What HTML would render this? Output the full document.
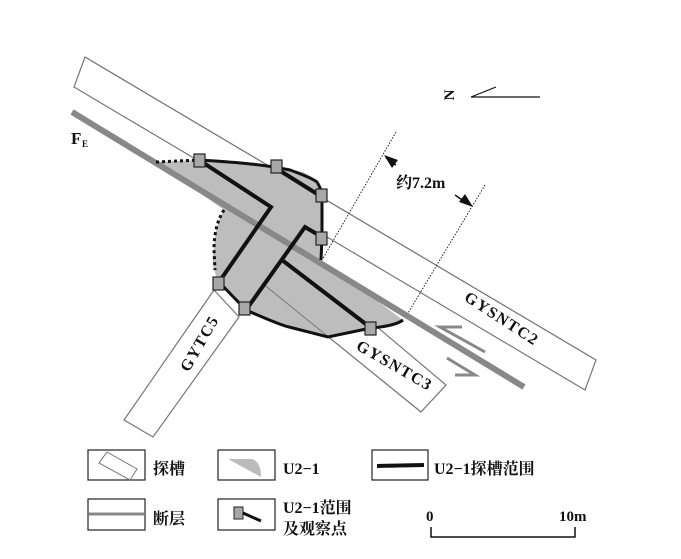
<!DOCTYPE html>
<html><head><meta charset="utf-8"><style>
html,body{margin:0;padding:0;background:#fff;}
svg{display:block;}
text{font-family:"Liberation Serif","Noto Serif CJK SC",serif;font-weight:bold;fill:#111;}
</style></head><body>
<svg width="681" height="559" viewBox="0 0 681 559" xmlns="http://www.w3.org/2000/svg">
<rect width="681" height="559" fill="#fff"/>
<!-- trenches -->
<polygon points="85,57 596,360 585,390 74,87" fill="#fff" stroke="#777" stroke-width="1.2"/>
<polygon points="300,262 446,385 421,412 262,283" fill="#fff" stroke="#777" stroke-width="1.2"/>
<polygon points="214,290 239,317 153,437 124,420" fill="#fff" stroke="#777" stroke-width="1.2"/>
<!-- shaded U2-1 -->
<path d="M156,162 L199,160 Q250,163 274,167 L303,172 Q315,178 317,182 L322,197 L322,237 L321,260 L403,320 Q395,326 371,328 L328,337 Q305,333 289,327 L246,310 L219,282 Q210,265 214,250 Q215,225 224,210 Z" fill="#bdbdbd"/>
<!-- trench lines over shading -->
<line x1="262" y1="283" x2="421" y2="412" stroke="#777" stroke-width="1"/>
<line x1="85" y1="57" x2="596" y2="360" stroke="#777" stroke-width="1"/>
<!-- fault -->
<line x1="72" y1="112" x2="524" y2="387" stroke="#888" stroke-width="6"/>
<!-- boundary -->
<path d="M199,160 Q250,163 274,167 L290,170 Q312,178 317,182 Q322,190 322,197 L322,237 L321,260" fill="none" stroke="#111" stroke-width="3"/>
<path d="M219,282 L246,310 Q280,325 289,327 L328,337 L371,328 Q395,326 403,320" fill="none" stroke="#111" stroke-width="3"/>
<path d="M156,162 L199,160" stroke="#111" stroke-width="3" stroke-dasharray="3,3"/>
<path d="M224,210 Q214,225 214,250 L215,270" fill="none" stroke="#111" stroke-width="3" stroke-dasharray="3,3"/>
<!-- trench range lines -->
<polyline points="199,160 271,207 219,282" fill="none" stroke="#111" stroke-width="4"/>
<polyline points="274,167 322,197" fill="none" stroke="#111" stroke-width="4"/>
<polyline points="246,310 305,227 322,237" fill="none" stroke="#111" stroke-width="4"/>
<polyline points="282,260 371,328" fill="none" stroke="#111" stroke-width="4"/>
<!-- squares -->
<g fill="#a8a8a8" stroke="#222" stroke-width="1.2">
<rect x="194" y="154" width="11" height="13"/>
<rect x="271" y="160" width="11" height="13"/>
<rect x="316" y="189" width="11" height="13"/>
<rect x="316" y="232" width="11" height="13"/>
<rect x="213" y="277" width="11" height="13"/>
<rect x="239" y="302" width="11" height="13"/>
<rect x="365" y="322" width="11" height="13"/>
</g>
<!-- dimension -->
<line x1="396" y1="132" x2="322" y2="260" stroke="#222" stroke-width="1" stroke-dasharray="1.5,1.5"/>
<line x1="485" y1="185" x2="408" y2="313" stroke="#222" stroke-width="1" stroke-dasharray="1.5,1.5"/>
<line x1="396" y1="165" x2="386" y2="158" stroke="#111" stroke-width="1.5"/>
<polygon points="384,155 398,160 392,168" fill="#111"/>
<line x1="455" y1="195" x2="468" y2="204" stroke="#111" stroke-width="1.5"/>
<polygon points="473,207 459,202 465,194" fill="#111"/>
<text x="396" y="188" font-size="16">约7.2m</text>
<!-- shear arrows -->
<polyline points="462,327 440,327 485,352" fill="none" stroke="#888" stroke-width="3"/>
<polyline points="447,358 475,375 455,375" fill="none" stroke="#888" stroke-width="3"/>
<!-- north -->
<text x="0" y="0" font-size="15" transform="translate(454,95) rotate(-90)" text-anchor="middle">N</text>
<polyline points="496,87 471,97 540,97" fill="none" stroke="#111" stroke-width="1.2"/>
<text x="71" y="144" font-size="17">F</text><text x="82" y="147" font-size="9">E</text>
<text font-size="16" transform="translate(499,323) rotate(33)" text-anchor="middle" letter-spacing="1.5">GYSNTC2</text>
<text font-size="16" transform="translate(392,370) rotate(30)" text-anchor="middle" letter-spacing="1.5">GYSNTC3</text>
<text font-size="16" transform="translate(204,346) rotate(-60)" text-anchor="middle" letter-spacing="1.5">GYTC5</text>
<!-- legend -->
<g fill="#fff" stroke="#222" stroke-width="1.2">
<rect x="88" y="450" width="57" height="30"/>
<rect x="218" y="450" width="57" height="30"/>
<rect x="372" y="450" width="56" height="30"/>
<rect x="88" y="499" width="57" height="31"/>
<rect x="218" y="499" width="57" height="31"/>
</g>
<polygon points="107,452 137,469 130,480 99,463" fill="none" stroke="#777" stroke-width="1"/>
<path d="M228,459 L252,459 Q261,462 261,477 Z" fill="#bbb"/>
<line x1="377" y1="466" x2="424" y2="465" stroke="#111" stroke-width="4"/>
<line x1="89" y1="514" x2="144" y2="514" stroke="#888" stroke-width="3"/>
<rect x="234" y="507" width="9" height="12" fill="#a8a8a8" stroke="#222" stroke-width="1"/>
<line x1="243" y1="513" x2="261" y2="521" stroke="#111" stroke-width="3"/>
<text x="153" y="474" font-size="16">探槽</text>
<text x="283" y="474" font-size="16">U2−1</text>
<text x="434" y="474" font-size="16">U2−1探槽范围</text>
<text x="153" y="524" font-size="16">断层</text>
<text x="283" y="513" font-size="16">U2−1范围</text>
<text x="283" y="534" font-size="16">及观察点</text>
<text x="426" y="521" font-size="15">0</text>
<text x="559" y="521" font-size="15">10m</text>
<polyline points="431,527 431,537 575,537 575,527" fill="none" stroke="#111" stroke-width="1.5"/>
</svg>
</body></html>
